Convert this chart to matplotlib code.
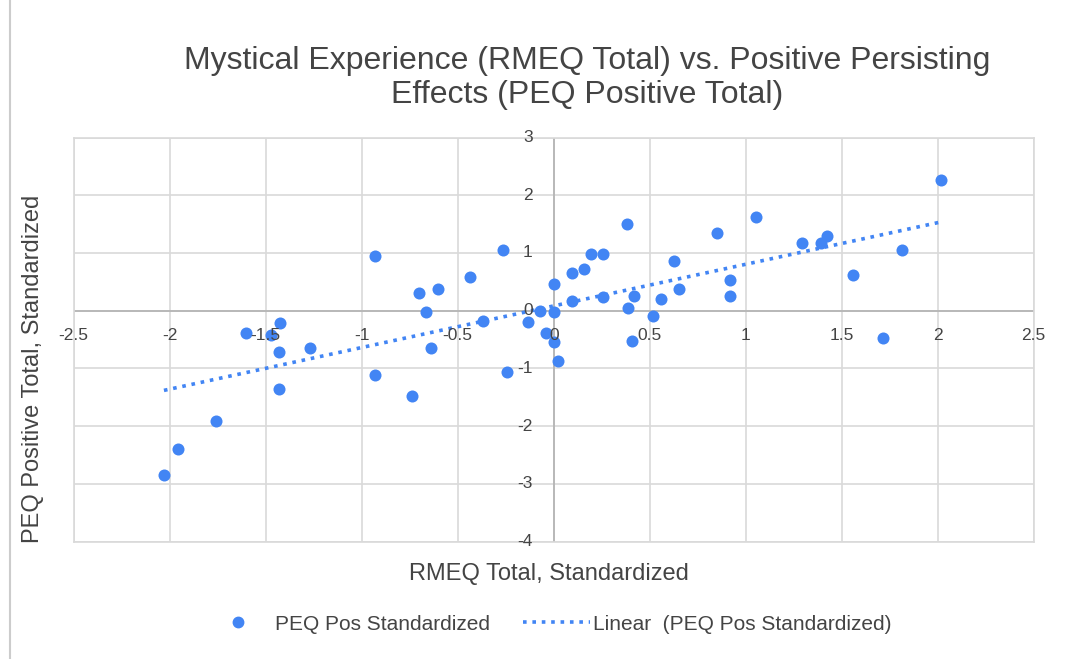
import matplotlib
matplotlib.use("Agg")
import matplotlib.pyplot as plt
from matplotlib.lines import Line2D
import numpy as np

# standardized scores
rmeq_std = [-2.03, -1.955, -1.76, -1.60, -1.47, -1.425, -1.43, -1.43, -1.27,
            -0.93, -0.93, -0.736, -0.70, -0.665, -0.64, -0.60, -0.436, -0.37,
            -0.262, -0.245, -0.132, -0.071, -0.04, 0.0, 0.0, 0.0, 0.02,
            0.095, 0.158, 0.193, 0.255, 0.383, 0.095, 0.255, 0.418, 0.387,
            0.519, 0.557, 0.627, 0.654, 0.85, 0.41, 1.054, 0.918, 0.918,
            1.293, 1.39, 1.425, 1.557, 1.812, 2.019, 1.713]
peq_pos_std = [-2.85, -2.40, -1.92, -0.38, -0.42, -0.22, -0.71, -1.36, -0.64,
               0.94, -1.11, -1.48, 0.30, -0.03, -0.64, 0.37, 0.58, -0.17,
               1.06, -1.07, -0.20, 0.0, -0.39, 0.46, -0.03, -0.55, -0.87,
               0.65, 0.73, 0.98, 0.98, 1.50, 0.17, 0.24, 0.26, 0.04,
               -0.10, 0.20, 0.86, 0.37, 1.34, -0.52, 1.62, 0.53, 0.25,
               1.18, 1.18, 1.30, 0.62, 1.05, 2.27, -0.48]

x_ticks = [-2.5, -2, -1.5, -1, -0.5, 0, 0.5, 1, 1.5, 2, 2.5]
x_tick_labels = ["-2.5", "-2", "-1.5", "-1", "-0.5", "0", "0.5", "1", "1.5", "2", "2.5"]
y_ticks = [3, 2, 1, 0, -1, -2, -3, -4]
y_tick_labels = ["3", "2", "1", "0", "-1", "-2", "-3", "-4"]

blue = "#4285f4"
text_col = "#444444"
grid_col = "#d9d9d9"

plt.rcParams["font.family"] = ["Liberation Sans", "DejaVu Sans"]

fig = plt.figure(figsize=(10.65, 6.59), dpi=100)
ax = fig.add_axes([0.0692, 0.1783, 0.9014, 0.6129])

x = np.array(rmeq_std)
y = np.array(peq_pos_std)

ax.scatter(x, y, s=75, color=blue, zorder=3, linewidths=0)

# linear trendline
m, b = np.polyfit(x, y, 1)
xs = np.array([x.min(), x.max()])
ax.plot(xs, m * xs + b, color=blue, linewidth=2.6, linestyle=(0, (1, 1.6)), zorder=2)

ax.set_xlim(-2.5, 2.5)
ax.set_ylim(-4, 3)
ax.set_xticks(x_ticks)
ax.set_yticks(y_ticks)
ax.tick_params(length=0, labelbottom=False, labelleft=False)
ax.grid(True, color=grid_col, linewidth=1.2)
ax.set_axisbelow(True)
for sp in ax.spines.values():
    sp.set_color(grid_col)
    sp.set_linewidth(1.2)
ax.axhline(0, color="#b8b8b8", linewidth=1.4, zorder=1)
ax.axvline(0, color="#b8b8b8", linewidth=1.4, zorder=1)

# tick labels sit on the zero axes
for v, lab in zip(x_ticks, x_tick_labels):
    ax.annotate(lab, xy=(v, 0), xytext=(0, -18), textcoords="offset points",
                ha="center", va="center", fontsize=12.5, color=text_col)
for v, lab in zip(y_ticks, y_tick_labels):
    ax.annotate(lab, xy=(0, v), xytext=(-15, 0), textcoords="offset points",
                ha="right", va="center", fontsize=12.5, color=text_col)

fig.text(0.551, 1 - 78 / 659, "Mystical Experience (RMEQ Total) vs. Positive Persisting\nEffects (PEQ Positive Total)",
         ha="center", va="center", fontsize=23, color=text_col, linespacing=1.15)
fig.text(0.515, 1 - 574 / 659, "RMEQ Total, Standardized", ha="center", va="center",
         fontsize=17, color=text_col)
fig.text(33 / 1065, 1 - 369 / 659, "PEQ Positive Total, Standardized", ha="center", va="center",
         rotation=90, fontsize=17, color=text_col)

handles = [Line2D([], [], marker="o", linestyle="none", color=blue, markersize=7.5),
           Line2D([], [], color=blue, linewidth=2.6, linestyle=(0, (1, 1.6)))]
fig.legend(handles, ["PEQ Pos Standardized", "Linear  (PEQ Pos Standardized)"],
           loc="center", bbox_to_anchor=(548 / 1065, 1 - 624 / 659), ncol=2, frameon=False,
           fontsize=15, labelcolor=text_col, handlelength=3.2, handletextpad=0.15,
           columnspacing=1.6)

# frame edge on the left of the screenshot
fig.add_artist(Line2D([10 / 1065, 10 / 1065], [0, 1], color="#cccccc", linewidth=1.5))

fig.savefig("out.png", dpi=100)
